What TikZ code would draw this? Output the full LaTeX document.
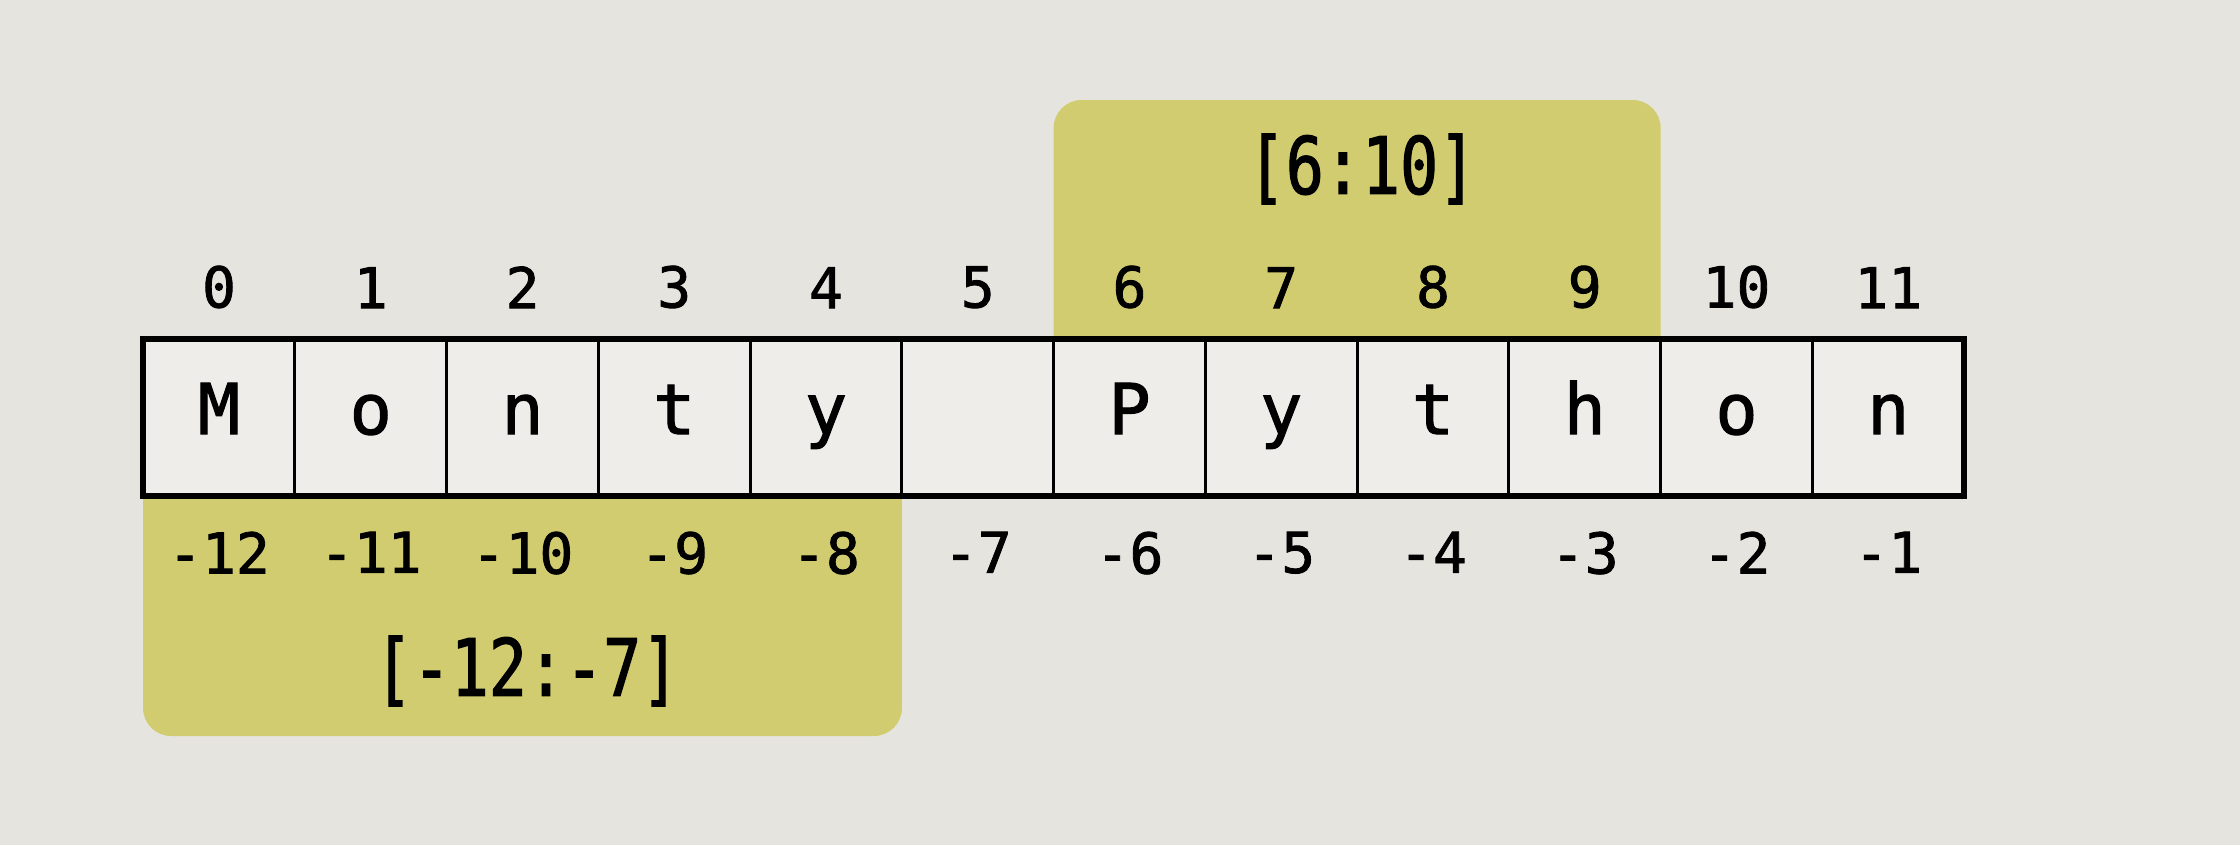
\documentclass[tikz,border=0pt]{standalone}
\usepackage{fontspec}
\newfontfamily\codefont[FakeBold=1.5]{DejaVu Sans Mono}
\newfontfamily\slicefont[FakeStretch=0.8,FakeBold=1.5]{DejaVu Sans Mono}
\usepackage{tikz}
\usetikzlibrary{positioning,backgrounds}
\definecolor{paper}{RGB}{229,228,223}
\definecolor{cellbg}{RGB}{238,237,233}
\definecolor{slicebg}{RGB}{210,204,112}
\tikzstyle{idx}=[inner sep=0pt, font=\codefont\fontsize{16}{18}\selectfont]

\begin{document}
\begin{tikzpicture}[x=0.01cm,y=-0.01cm,
          cell/.style={draw=black,fill=cellbg,line width=0.9pt,outer sep=0pt,inner sep=0pt,
                       minimum width=1.5175cm,minimum height=1.57cm,text height=0.95em,text depth=0pt,
                       font=\codefont\fontsize{20}{24}\selectfont},
          slice/.style={font=\slicefont\fontsize{22.5}{26}\selectfont},
          band/.style={fill=slicebg,rounded corners=0.28cm}]
        \useasboundingbox (0,0) rectangle (2240,845);
        \foreach \ch [count=\i from 0] in {M,o,n,t,y,{},P,y,t,h,o,n}
          \node [cell] (cell\i) at ({219+151.75*\i},417.5) {\ch};
        \draw [line width=1.7pt] (cell0.north west) rectangle (cell11.south east);
        \foreach \i in {0,...,11} {
          \pgfmathtruncatemacro{\n}{\i-12}
          \node [idx,above=0.3cm of cell\i] (pos\i) {\i};
          \node [idx,below=0.35cm of cell\i] (neg\i) {\n};
        }
        \node [slice] (fwd) at (1362,169) {[6:10]};
        \node [slice] (bwd) at (527,671) {[-12:-7]};
        \begin{scope}[on background layer]
          \fill [paper] (0,0) rectangle (2240,845);
          \fill [band] (cell6.west |- 0,100) rectangle (cell9.east);
          \fill [band] (cell0.west) rectangle (cell4.east |- 0,736);
        \end{scope}
      \end{tikzpicture}
\end{document}
